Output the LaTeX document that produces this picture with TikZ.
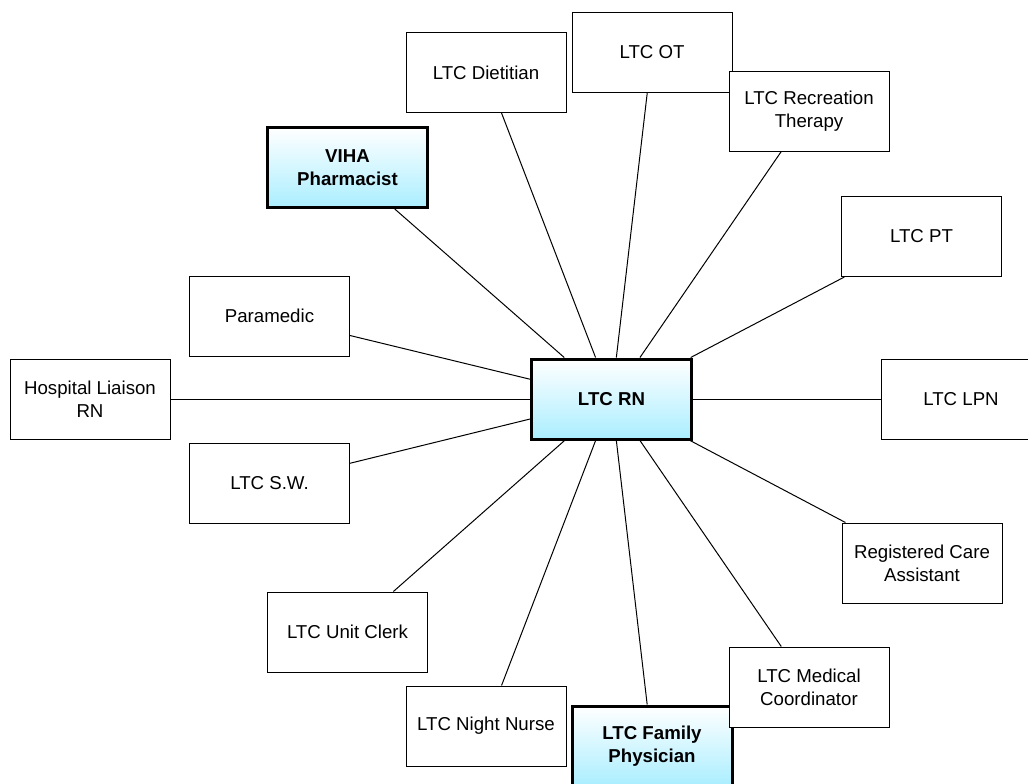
\documentclass[tikz,border=0pt]{standalone}
\usepackage{fontspec}
\setmainfont{Liberation Sans}
\usepackage{tikz}
\usetikzlibrary{positioning}
\definecolor{ink}{HTML}{000000}
\definecolor{aqua}{HTML}{AAEEFF}
\tikzset{
  role/.style={draw=ink, fill=white, line width=0.75pt, align=center, font=\fontsize{14}{17}\selectfont, minimum width=120pt, minimum height=60pt, inner sep=2pt},
  key/.style={role, line width=2.25pt, font=\fontsize{14}{17}\selectfont\bfseries, top color=white, bottom color=aqua},
  link/.style={line width=0.75pt, ink},
}
\begin{document}
\begin{tikzpicture}[x=0.75pt, y=-0.75pt]
  \useasboundingbox (0,0) rectangle (1028,783);
  % hub
  \node[key] (rn) at (611.5,399) {LTC RN};
  % roles round the hub, clockwise from the left
  \node[role] (liaison) at (90,399) {Hospital Liaison\\RN};
  \node[role] (paramedic) at (269.5,316) {Paramedic};
  \node[key] (pharm) at (347.5,167.5) {VIHA\\Pharmacist};
  \node[role] (diet) at (486,72.5) {LTC Dietitian};
  \node[role] (ot) at (652,52) {LTC OT};
  \node[role] (rec) at (809,111) {LTC Recreation\\Therapy};
  \node[role] (pt) at (921.5,236.5) {LTC PT};
  \node[role] (lpn) at (961,399) {LTC LPN};
  \node[role] (rca) at (922,563) {Registered Care\\Assistant};
  \node[key] (phys) at (652,746) {LTC Family\\Physician};
  \node[role] (coord) at (809,687) {LTC Medical\\Coordinator};
  \node[role] (night) at (486,726) {LTC Night Nurse};
  \node[role] (clerk) at (347.5,632) {LTC Unit Clerk};
  \node[role] (sw) at (269.5,483) {LTC S.W.};
  \foreach \n in {liaison,paramedic,pharm,diet,ot,rec,pt,lpn,rca,phys,coord,night,clerk,sw} \draw[link] (rn) -- (\n);
\end{tikzpicture}
\end{document}
